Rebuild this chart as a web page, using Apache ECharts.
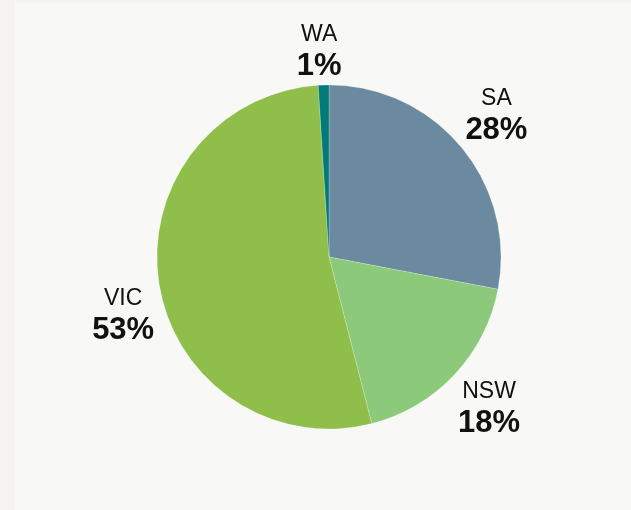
<!DOCTYPE html>
<html>
<head>
<meta charset="utf-8">
<script src="https://cdn.jsdelivr.net/npm/echarts@6/dist/echarts.min.js"></script>
<style>
  html, body { margin: 0; padding: 0; background: #f5f4f0; }
  #chart { position: absolute; left: 15px; top: 2px; width: 616px; height: 508px; background: #f8f8f6; }
</style>
</head>
<body>
<div id="chart"></div>
<script>
const categories = ['SA', 'NSW', 'VIC', 'WA'];
const values = [28, 18, 53, 1];
const colors = ['#6b8a9f', '#8dc97a', '#8fbf4a', '#007b7a'];

const pieData = categories.map((name, i) => ({ name: name, value: values[i], itemStyle: { color: colors[i] } }));

const total = values.reduce((a, b) => a + b, 0);
const cum = [];
values.reduce((acc, v, i) => { cum[i] = acc; return acc + v; }, 0);

const cx = 329 - 15, cy = 257 - 2, R = 172, anchorR = 177;
function clamp(v) { return Math.max(-1, Math.min(1, v)); }

const chart = echarts.init(document.getElementById('chart'), null, { renderer: 'canvas' });
chart.setOption({
  backgroundColor: 'transparent',
  animation: false,
  series: [
    {
      type: 'pie',
      center: [cx, cy],
      radius: [0, R],
      startAngle: 90,
      clockwise: true,
      data: pieData,
      silent: true,
      itemStyle: { borderColor: 'rgba(255,255,255,0.35)', borderWidth: 0.6 },
      labelLine: { show: false },
      label: {
        show: true,
        position: 'outside',
        formatter: function (p) { return '{n|' + p.name + '}\n{p|' + p.value + '%}'; },
        rich: {
          n: { fontFamily: 'Liberation Sans', fontSize: 23, color: '#111', lineHeight: 32, align: 'center' },
          p: { fontFamily: 'Liberation Sans', fontSize: 31, fontWeight: 'bold', color: '#111', lineHeight: 32, align: 'center' }
        }
      },
      labelLayout: function (params) {
        const i = params.dataIndex;
        const mid = (cum[i] + values[i] / 2) / total * Math.PI * 2;
        const ux = Math.sin(mid), uy = -Math.cos(mid);
        const w = params.labelRect.width / 2, h = params.labelRect.height / 2;
        return {
          x: cx + anchorR * ux + w * clamp(ux * 6),
          y: cy + anchorR * uy + h * clamp(uy * 8),
          align: 'center',
          verticalAlign: 'middle'
        };
      }
    }
  ]
});
</script>
</body>
</html>
